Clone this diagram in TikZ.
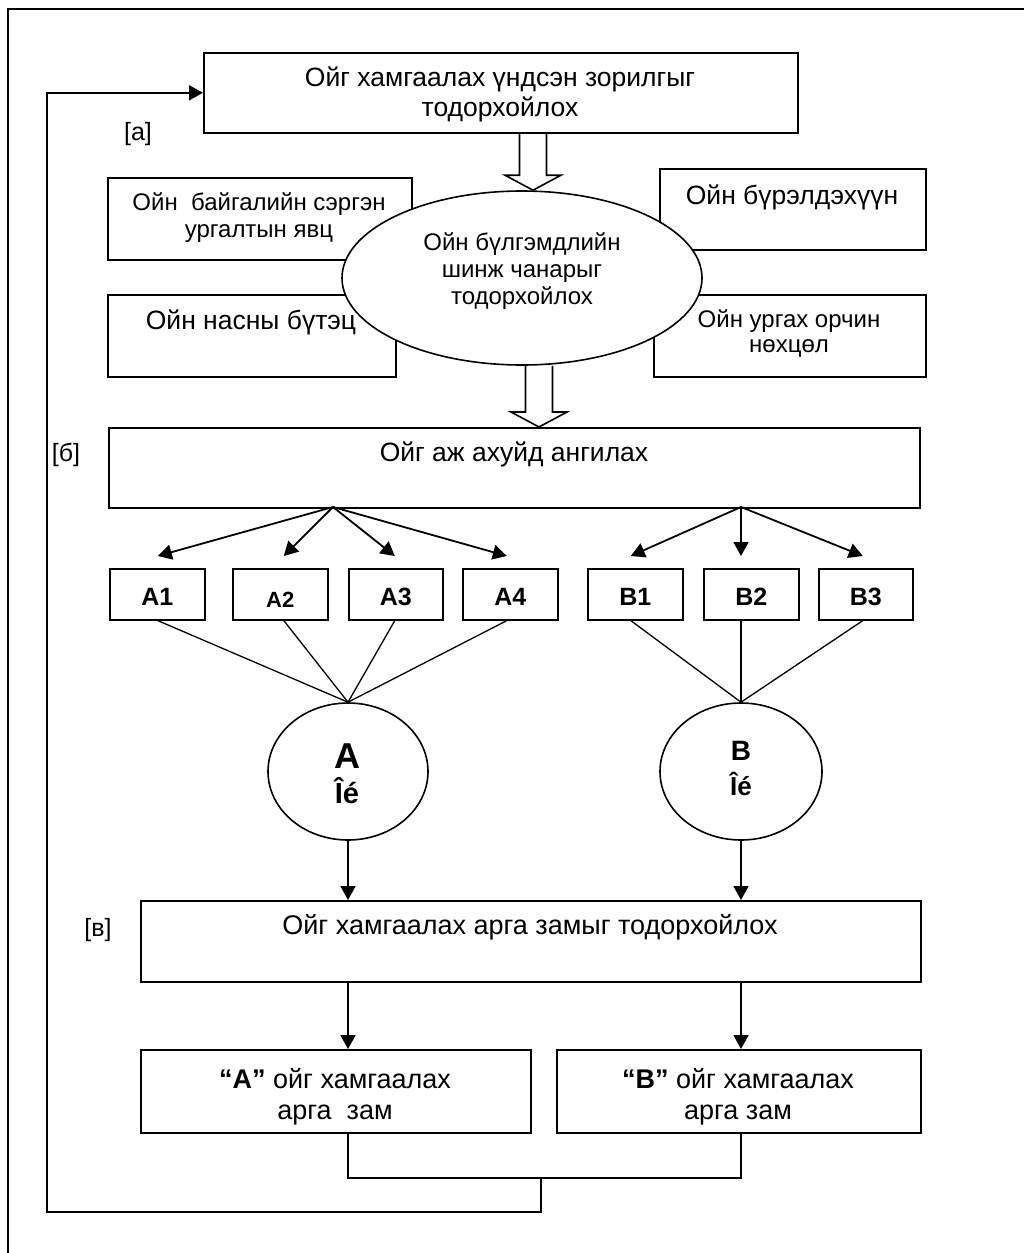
\documentclass[tikz,border=0pt]{standalone}
\usepackage{fontspec}
\setmainfont{Liberation Sans}
\usetikzlibrary{arrows.meta,calc,shapes.geometric}
\newcommand\myfs[2]{\fontsize{#1}{#2}\selectfont}
\newcommand\hollowarr[3]{%
  \draw[hollow] ($(#2 -| #1)+(-13.5,0)$) -- ($(#3 -| #1)+(-13.5,-15)$) -- ($(#3 -| #1)+(-28,-15)$)
    -- (#3 -| #1) -- ($(#3 -| #1)+(28,-15)$) -- ($(#3 -| #1)+(13.5,-15)$) -- ($(#2 -| #1)+(13.5,0)$);}
\begin{document}
\begin{tikzpicture}[x=1pt,y=-1pt,
  box/.style={draw,line width=1.6pt,fill=white,inner sep=0pt,rectangle,anchor=north west},
  oval/.style={draw,line width=1.6pt,fill=white,inner sep=0pt,ellipse},
  txt/.style={inner sep=0pt,align=center},
  conn/.style={line width=1.6pt},
  thinl/.style={line width=1.3pt},
  arr/.style={line width=1.8pt,-{Triangle[length=14pt,width=15pt]}},
  hollow/.style={line width=1.6pt,line join=miter},
  frame/.style={line width=2pt}]
\useasboundingbox (0,0) rectangle (1023,1253);
\draw[frame] (8,1300) -- (8,9) -- (1040,9);

% top goal box
\node[box,minimum width=594pt,minimum height=80pt] (goal) at (203,52) {};
\node[txt,anchor=north,font=\myfs{26.5}{30}] (goalt) at (500,67) {Ойг хамгаалах үндсэн зорилгыг\\тодорхойлох};

% side boxes
\node[box,minimum width=304pt,minimum height=82pt] (regen) at (107,177) {};
\node[txt,anchor=north,font=\myfs{24}{27}] (regent) at (259,192) {Ойн\ \ байгалийн сэргэн\\ургалтын явц};
\node[box,minimum width=288pt,minimum height=82pt] (age) at (107,294) {};
\node[txt,anchor=base,font=\myfs{26.5}{30}] (aget) at (251,329) {Ойн насны бүтэц};
\node[box,minimum width=266pt,minimum height=81pt] (comp) at (659,168) {};
\node[txt,anchor=base,font=\myfs{26.5}{30}] (compt) at (792,204) {Ойн бүрэлдэхүүн};
\node[box,minimum width=272pt,minimum height=82pt] (env) at (653,294) {};
\node[txt,anchor=north,font=\myfs{24}{25.5}] (envt) at (789,309) {Ойн ургах орчин\\нөхцөл};

% ellipse
\node[oval,minimum width=360pt,minimum height=174pt] (ell) at (522,278) {};
\node[txt,anchor=north,font=\myfs{24}{27}] (ellt) at (522,232) {Ойн бүлгэмдлийн\\шинж чанарыг\\тодорхойлох};

% classification box
\node[box,minimum width=811pt,minimum height=80pt] (cls) at (108,427) {};
\node[txt,anchor=base,font=\myfs{26.5}{30}] (clst) at (514,461) {Ойг аж ахуйд ангилах};

% hollow arrows
\coordinate (h1) at (533,0);
\coordinate (h2) at (539,0);
\hollowarr{h1}{goal.south}{ell.north}
\hollowarr{h2}{ell.south}{cls.north}

% A and B boxes
\node[box,minimum width=95pt,minimum height=51pt] (A1) at (109,568) {};
\node[box,minimum width=95pt,minimum height=51pt] (A2) at (232,568) {};
\node[box,minimum width=94pt,minimum height=51pt] (A3) at (348,568) {};
\node[box,minimum width=95pt,minimum height=51pt] (A4) at (462,568) {};
\node[box,minimum width=95pt,minimum height=51pt] (B1) at (587,568) {};
\node[box,minimum width=95pt,minimum height=51pt] (B2) at (703,568) {};
\node[box,minimum width=94pt,minimum height=51pt] (B3) at (818,568) {};
\node[txt,anchor=base,font=\myfs{25}{30}\bfseries] (A1t) at (A1.center |- 0,605) {A1};
\node[txt,anchor=base,font=\myfs{22}{26}\bfseries] (A2t) at (A2.center |- 0,607) {A2};
\node[txt,anchor=base,font=\myfs{25}{30}\bfseries] (A3t) at (A3.center |- 0,605) {A3};
\node[txt,anchor=base,font=\myfs{25}{30}\bfseries] (A4t) at (A4.center |- 0,605) {A4};
\node[txt,anchor=base,font=\myfs{25}{30}\bfseries] (B1t) at (B1.center |- 0,605) {B1};
\node[txt,anchor=base,font=\myfs{25}{30}\bfseries] (B2t) at (B2.center |- 0,605) {B2};
\node[txt,anchor=base,font=\myfs{25}{30}\bfseries] (B3t) at (B3.center |- 0,605) {B3};

% arrows from classification box
\coordinate (ca) at (333,507);
\coordinate (cb) at (741,507);
\draw[arr] (ca) -- ($(A1.north)+(0.5,-12)$);
\draw[arr] (ca) -- ($(A2.north)+(3.5,-12)$);
\draw[arr] (ca) -- ($(A3.north)+(-1,-12)$);
\draw[arr] (ca) -- ($(A4.north)+(-3.5,-12)$);
\draw[arr] (cb) -- ($(B1.north)+(-4.5,-12)$);
\draw[arr] (cb) -- (cb |- 0,556);
\draw[arr] (cb) -- ($(B3.north)+(-3,-12)$);

% circles
\node[oval,minimum width=160pt,minimum height=137pt] (circA) at (348,771.5) {};
\node[oval,minimum width=162pt,minimum height=137pt] (circB) at (741,771.5) {};
\node[txt,anchor=base,font=\myfs{36}{40}\bfseries] (circAt1) at (347,768) {A};
\node[txt,anchor=base,font=\myfs{29}{34}\bfseries] (circAt2) at (347,803) {Îé};
\node[txt,anchor=base,font=\myfs{28}{32}\bfseries] (circBt1) at (741,760) {B};
\node[txt,anchor=base,font=\myfs{26}{30}\bfseries] (circBt2) at (741,795) {Îé};

% lines boxes to circles
\draw[thinl] ($(A1.south)+(0.5,0)$) -- (circA.north);
\draw[thinl] ($(A2.south)+(3.5,0)$) -- (circA.north);
\draw[thinl] ($(A3.south)+(-1,0)$) -- (circA.north);
\draw[thinl] ($(A4.south)+(-3.5,0)$) -- (circA.north);
\draw[thinl] ($(B1.south)+(-4.5,0)$) -- (circB.north);
\draw[thinl] (circB.north |- B2.south) -- (circB.north);
\draw[thinl] ($(B3.south)+(-3,0)$) -- (circB.north);

% methods box
\node[box,minimum width=780pt,minimum height=81pt] (meth) at (140,900) {};
\node[txt,anchor=base,font=\myfs{27}{30}] (metht) at (530,934) {Ойг хамгаалах арга замыг тодорхойлох};
\draw[arr] (circA.south) -- (circA.south |- meth.north);
\draw[arr] (circB.south) -- (circB.south |- meth.north);

% bottom boxes
\node[box,minimum width=390pt,minimum height=83pt] (mA) at (140,1049) {};
\node[box,minimum width=364pt,minimum height=83pt] (mB) at (556,1049) {};
\node[txt,anchor=north,font=\myfs{27}{31}] (mAt) at (335,1068) {{\bfseries “A”} ойг хамгаалах\\арга\ \ зам};
\node[txt,anchor=north,font=\myfs{27}{31}] (mBt) at (738,1068) {{\bfseries “B”} ойг хамгаалах\\арга зам};
\draw[arr] (circA.south |- meth.south) -- (circA.south |- mA.north);
\draw[arr] (circB.south |- meth.south) -- (circB.south |- mB.north);

% feedback loop
\coordinate (j) at (541,1178);
\draw[conn] (circA.south |- mA.south) -- (circA.south |- j) -- (circB.south |- j) -- (circB.south |- mB.south);
\draw[arr] (j) -- ++(0,34) -| ($(goal.west)+(-156,0)$) -- (goal.west);

% labels
\node[txt,anchor=base,font=\myfs{25}{28}] (la) at (138,140) {[а]};
\node[txt,anchor=base,font=\myfs{25}{28}] (lb) at (66,461) {[б]};
\node[txt,anchor=base,font=\myfs{25}{28}] (lc) at (98,936) {[в]};
\end{tikzpicture}
\end{document}
